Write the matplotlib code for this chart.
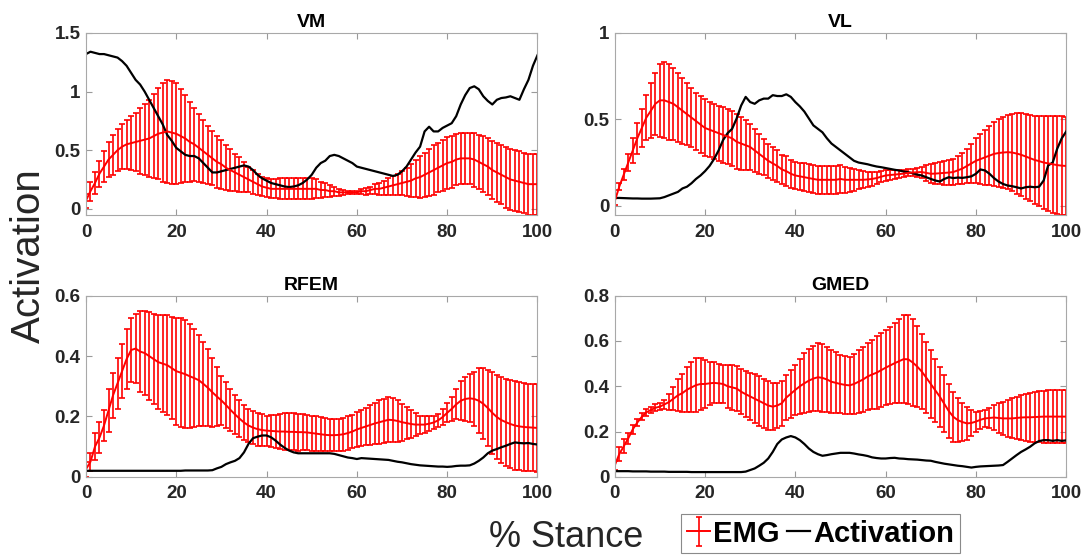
import matplotlib
matplotlib.use("Agg")
import matplotlib.pyplot as plt
import numpy as np
from matplotlib.ticker import FuncFormatter

plt.rcParams['font.family'] = ['Liberation Sans', 'DejaVu Sans']

stance = np.arange(0, 101)

vm_mean = [0.07, 0.15, 0.22, 0.30, 0.36, 0.42, 0.46, 0.50, 0.53, 0.55,
           0.56, 0.57, 0.58, 0.59, 0.60, 0.62, 0.64, 0.65, 0.66, 0.65,
           0.64, 0.62, 0.60, 0.57, 0.55, 0.52, 0.49, 0.46, 0.43, 0.40,
           0.38, 0.35, 0.33, 0.31, 0.29, 0.27, 0.25, 0.23, 0.21, 0.19,
           0.18, 0.17, 0.17, 0.17, 0.17, 0.17, 0.17, 0.17, 0.17, 0.17,
           0.17, 0.17, 0.16, 0.16, 0.15, 0.15, 0.14, 0.14, 0.14, 0.14,
           0.14, 0.15, 0.15, 0.16, 0.17, 0.17, 0.18, 0.19, 0.20, 0.21,
           0.22, 0.23, 0.24, 0.26, 0.27, 0.29, 0.31, 0.33, 0.35, 0.37,
           0.39, 0.40, 0.42, 0.43, 0.43, 0.43, 0.42, 0.40, 0.38, 0.36,
           0.33, 0.31, 0.29, 0.27, 0.25, 0.24, 0.23, 0.22, 0.21, 0.21,
           0.21]
vm_sd = [0.06, 0.08, 0.09, 0.11, 0.13, 0.15, 0.17, 0.18, 0.19, 0.21,
         0.23, 0.25, 0.28, 0.30, 0.33, 0.36, 0.39, 0.42, 0.44, 0.44,
         0.43, 0.40, 0.37, 0.34, 0.31, 0.29, 0.27, 0.25, 0.23, 0.22,
         0.21, 0.19, 0.18, 0.16, 0.15, 0.13, 0.11, 0.10, 0.09, 0.08,
         0.08, 0.08, 0.08, 0.09, 0.09, 0.09, 0.09, 0.09, 0.09, 0.09,
         0.09, 0.08, 0.07, 0.06, 0.05, 0.04, 0.03, 0.02, 0.01, 0.01,
         0.01, 0.02, 0.03, 0.03, 0.04, 0.05, 0.06, 0.07, 0.08, 0.09,
         0.10, 0.12, 0.14, 0.16, 0.18, 0.19, 0.20, 0.21, 0.21, 0.22,
         0.22, 0.22, 0.22, 0.22, 0.22, 0.22, 0.23, 0.23, 0.24, 0.24,
         0.25, 0.25, 0.25, 0.26, 0.26, 0.26, 0.26, 0.26, 0.26, 0.26,
         0.26]
vm_act = [1.32, 1.34, 1.33, 1.32, 1.32, 1.31, 1.30, 1.29, 1.26, 1.22,
          1.16, 1.10, 1.06, 1.00, 0.93, 0.86, 0.79, 0.72, 0.63, 0.58,
          0.52, 0.49, 0.46, 0.45, 0.45, 0.43, 0.39, 0.35, 0.31, 0.31,
          0.32, 0.33, 0.34, 0.35, 0.36, 0.37, 0.36, 0.33, 0.29, 0.26,
          0.24, 0.22, 0.21, 0.20, 0.19, 0.185, 0.19, 0.20, 0.22, 0.25,
          0.29, 0.35, 0.39, 0.41, 0.45, 0.46, 0.45, 0.43, 0.41, 0.39,
          0.36, 0.35, 0.34, 0.33, 0.32, 0.31, 0.30, 0.29, 0.28, 0.29,
          0.32, 0.36, 0.42, 0.48, 0.53, 0.66, 0.70, 0.66, 0.66, 0.69,
          0.71, 0.73, 0.79, 0.89, 0.97, 1.03, 1.045, 1.02, 0.96, 0.92,
          0.89, 0.93, 0.945, 0.95, 0.96, 0.945, 0.93, 1.02, 1.10, 1.22,
          1.31]

vl_mean = [0.025, 0.11, 0.18, 0.25, 0.32, 0.39, 0.45, 0.51, 0.55, 0.59,
           0.61, 0.61, 0.60, 0.59, 0.57, 0.55, 0.53, 0.51, 0.49, 0.47,
           0.45, 0.44, 0.43, 0.42, 0.41, 0.40, 0.39, 0.37, 0.36, 0.35,
           0.34, 0.32, 0.30, 0.28, 0.26, 0.245, 0.23, 0.21, 0.20, 0.185,
           0.175, 0.17, 0.165, 0.16, 0.155, 0.15, 0.15, 0.15, 0.15, 0.15,
           0.155, 0.15, 0.15, 0.15, 0.15, 0.15, 0.152, 0.155, 0.16, 0.168,
           0.175, 0.178, 0.18, 0.183, 0.186, 0.19, 0.192, 0.194, 0.195, 0.19,
           0.185, 0.186, 0.188, 0.19, 0.192, 0.195, 0.205, 0.215, 0.23, 0.245,
           0.26, 0.27, 0.28, 0.29, 0.30, 0.305, 0.308, 0.31, 0.308, 0.302,
           0.295, 0.285, 0.275, 0.265, 0.258, 0.25, 0.245, 0.24, 0.235, 0.232,
           0.23]
vl_sd = [0.02, 0.02, 0.03, 0.05, 0.07, 0.09, 0.11, 0.13, 0.16, 0.18,
         0.21, 0.22, 0.22, 0.21, 0.20, 0.19, 0.18, 0.17, 0.165, 0.165,
         0.165, 0.16, 0.16, 0.16, 0.16, 0.16, 0.16, 0.16, 0.155, 0.145,
         0.135, 0.125, 0.115, 0.105, 0.10, 0.095, 0.09, 0.085, 0.085, 0.08,
         0.08, 0.08, 0.08, 0.08, 0.08, 0.08, 0.08, 0.08, 0.08, 0.08,
         0.08, 0.075, 0.07, 0.065, 0.055, 0.05, 0.045, 0.04, 0.035, 0.032,
         0.03, 0.027, 0.025, 0.022, 0.02, 0.02, 0.022, 0.027, 0.032, 0.045,
         0.055, 0.06, 0.065, 0.068, 0.072, 0.075, 0.08, 0.088, 0.10, 0.115,
         0.13, 0.145, 0.16, 0.17, 0.185, 0.195, 0.205, 0.215, 0.225, 0.232,
         0.24, 0.245, 0.25, 0.255, 0.26, 0.27, 0.275, 0.28, 0.283, 0.285,
         0.285]
vl_act = [0.045, 0.045, 0.044, 0.043, 0.042, 0.042, 0.041, 0.041, 0.041, 0.042,
          0.043, 0.05, 0.06, 0.07, 0.08, 0.10, 0.11, 0.13, 0.155, 0.175,
          0.20, 0.23, 0.27, 0.32, 0.38, 0.42, 0.445, 0.505, 0.58, 0.63,
          0.60, 0.59, 0.61, 0.62, 0.62, 0.64, 0.635, 0.635, 0.645, 0.63,
          0.60, 0.575, 0.545, 0.505, 0.465, 0.445, 0.425, 0.39, 0.36, 0.34,
          0.32, 0.30, 0.28, 0.26, 0.25, 0.245, 0.24, 0.233, 0.227, 0.223,
          0.218, 0.213, 0.208, 0.204, 0.198, 0.194, 0.188, 0.18, 0.175, 0.165,
          0.155, 0.146, 0.14, 0.155, 0.165, 0.16, 0.163, 0.161, 0.165, 0.17,
          0.185, 0.21, 0.204, 0.185, 0.16, 0.14, 0.126, 0.117, 0.113, 0.107,
          0.10, 0.107, 0.11, 0.107, 0.11, 0.146, 0.233, 0.25, 0.33, 0.39,
          0.43]

rf_mean = [0.025, 0.05, 0.10, 0.13, 0.17, 0.22, 0.27, 0.31, 0.35, 0.39,
           0.42, 0.425, 0.415, 0.41, 0.40, 0.39, 0.38, 0.375, 0.37, 0.36,
           0.35, 0.345, 0.34, 0.333, 0.327, 0.32, 0.308, 0.295, 0.28, 0.266,
           0.253, 0.238, 0.222, 0.207, 0.193, 0.18, 0.17, 0.163, 0.158, 0.155,
           0.153, 0.152, 0.151, 0.15, 0.15, 0.149, 0.149, 0.148, 0.148, 0.147,
           0.145, 0.143, 0.141, 0.139, 0.138, 0.138, 0.139, 0.141, 0.145, 0.15,
           0.157, 0.162, 0.167, 0.172, 0.177, 0.181, 0.185, 0.189, 0.188, 0.185,
           0.181, 0.178, 0.175, 0.173, 0.173, 0.173, 0.176, 0.18, 0.187, 0.198,
           0.212, 0.225, 0.24, 0.252, 0.258, 0.26, 0.258, 0.252, 0.242, 0.228,
           0.212, 0.198, 0.188, 0.181, 0.175, 0.17, 0.167, 0.165, 0.164, 0.163,
           0.162]
rf_sd = [0.025, 0.03, 0.045, 0.05, 0.05, 0.07, 0.075, 0.085, 0.09, 0.10,
         0.105, 0.115, 0.135, 0.14, 0.145, 0.15, 0.155, 0.16, 0.165, 0.17,
         0.177, 0.18, 0.178, 0.172, 0.163, 0.15, 0.14, 0.128, 0.114, 0.098,
         0.08, 0.075, 0.07, 0.065, 0.06, 0.058, 0.056, 0.055, 0.055, 0.053,
         0.05, 0.052, 0.055, 0.058, 0.06, 0.061, 0.061, 0.061, 0.06, 0.059,
         0.058, 0.057, 0.056, 0.055, 0.054, 0.054, 0.054, 0.055, 0.055, 0.056,
         0.058, 0.06, 0.062, 0.065, 0.069, 0.072, 0.074, 0.075, 0.073, 0.068,
         0.061, 0.053, 0.045, 0.038, 0.03, 0.028, 0.024, 0.02, 0.022, 0.026,
         0.032, 0.04, 0.05, 0.065, 0.073, 0.08, 0.09, 0.107, 0.118, 0.127,
         0.135, 0.139, 0.142, 0.144, 0.145, 0.146, 0.146, 0.146, 0.145, 0.145,
         0.145]
rf_act = [0.02, 0.02, 0.02, 0.02, 0.02, 0.02, 0.02, 0.02, 0.02, 0.02,
          0.02, 0.02, 0.02, 0.02, 0.02, 0.02, 0.02, 0.02, 0.02, 0.02,
          0.02, 0.02, 0.021, 0.021, 0.021, 0.021, 0.021, 0.021, 0.022, 0.028,
          0.033, 0.042, 0.048, 0.053, 0.062, 0.081, 0.109, 0.128, 0.133, 0.137,
          0.137, 0.131, 0.12, 0.107, 0.096, 0.087, 0.081, 0.078, 0.078, 0.078,
          0.078, 0.078, 0.078, 0.078, 0.078, 0.076, 0.072, 0.068, 0.064, 0.062,
          0.059, 0.062, 0.061, 0.06, 0.059, 0.058, 0.057, 0.056, 0.053, 0.05,
          0.048, 0.045, 0.042, 0.04, 0.038, 0.037, 0.036, 0.035, 0.034, 0.034,
          0.033, 0.034, 0.036, 0.037, 0.037, 0.038, 0.044, 0.053, 0.064, 0.078,
          0.087, 0.092, 0.098, 0.103, 0.109, 0.114, 0.112, 0.111, 0.112, 0.109,
          0.107]

gm_mean = [0.05, 0.10, 0.135, 0.17, 0.21, 0.24, 0.265, 0.285, 0.295, 0.305,
           0.31, 0.32, 0.33, 0.345, 0.36, 0.37, 0.385, 0.395, 0.405, 0.41,
           0.41, 0.413, 0.415, 0.413, 0.41, 0.40, 0.395, 0.39, 0.376, 0.365,
           0.355, 0.345, 0.335, 0.325, 0.315, 0.31, 0.315, 0.325, 0.35, 0.367,
           0.384, 0.40, 0.413, 0.425, 0.434, 0.44, 0.437, 0.43, 0.42, 0.415,
           0.41, 0.406, 0.404, 0.41, 0.42, 0.43, 0.443, 0.452, 0.46, 0.471,
           0.482, 0.492, 0.502, 0.511, 0.52, 0.519, 0.505, 0.487, 0.465, 0.438,
           0.41, 0.382, 0.354, 0.322, 0.29, 0.265, 0.25, 0.242, 0.236, 0.238,
           0.244, 0.252, 0.258, 0.26, 0.262, 0.26, 0.258, 0.258, 0.258, 0.26,
           0.262, 0.263, 0.263, 0.264, 0.265, 0.266, 0.266, 0.266, 0.266, 0.266,
           0.266]
gm_sd = [0.02, 0.03, 0.03, 0.025, 0.02, 0.015, 0.015, 0.015, 0.015, 0.015,
         0.015, 0.02, 0.035, 0.05, 0.07, 0.085, 0.10, 0.11, 0.12, 0.115,
         0.105, 0.095, 0.09, 0.087, 0.085, 0.095, 0.098, 0.10, 0.10, 0.102,
         0.104, 0.107, 0.11, 0.108, 0.107, 0.105, 0.10, 0.10, 0.10, 0.105,
         0.11, 0.122, 0.133, 0.14, 0.145, 0.15, 0.15, 0.145, 0.14, 0.135,
         0.13, 0.128, 0.127, 0.132, 0.138, 0.143, 0.148, 0.154, 0.16, 0.163,
         0.165, 0.171, 0.177, 0.186, 0.195, 0.197, 0.19, 0.178, 0.165, 0.156,
         0.148, 0.14, 0.133, 0.126, 0.12, 0.11, 0.097, 0.085, 0.074, 0.058,
         0.044, 0.04, 0.037, 0.045, 0.055, 0.065, 0.074, 0.081, 0.088, 0.094,
         0.10, 0.104, 0.108, 0.11, 0.113, 0.115, 0.116, 0.117, 0.118, 0.118,
         0.118]
gm_act = [0.025, 0.025, 0.025, 0.025, 0.024, 0.024, 0.024, 0.024, 0.023, 0.023,
          0.023, 0.023, 0.022, 0.022, 0.022, 0.022, 0.022, 0.021, 0.021, 0.021,
          0.021, 0.021, 0.021, 0.021, 0.021, 0.021, 0.021, 0.021, 0.021, 0.023,
          0.03, 0.037, 0.049, 0.062, 0.081, 0.11, 0.145, 0.165, 0.174, 0.18,
          0.174, 0.162, 0.145, 0.125, 0.11, 0.10, 0.093, 0.096, 0.10, 0.103,
          0.106, 0.106, 0.106, 0.103, 0.099, 0.096, 0.092, 0.086, 0.083, 0.081,
          0.081, 0.083, 0.084, 0.081, 0.08, 0.078, 0.077, 0.076, 0.074, 0.072,
          0.071, 0.066, 0.062, 0.058, 0.055, 0.052, 0.049, 0.047, 0.044, 0.041,
          0.044, 0.046, 0.047, 0.048, 0.049, 0.05, 0.052, 0.066, 0.081, 0.096,
          0.11, 0.121, 0.133, 0.148, 0.158, 0.162, 0.162, 0.159, 0.162, 0.159,
          0.161]

titles = ["VM", "VL", "RFEM", "GMED"]
means = [vm_mean, vl_mean, rf_mean, gm_mean]
sds = [vm_sd, vl_sd, rf_sd, gm_sd]
acts = [vm_act, vl_act, rf_act, gm_act]
ylims = [(-0.055, 1.5), (-0.055, 1.0), (0, 0.6), (0, 0.8)]
yticks = [[0, 0.5, 1, 1.5], [0, 0.5, 1], [0, 0.2, 0.4, 0.6], [0, 0.2, 0.4, 0.6, 0.8]]

# axes boxes [left, bottom, width, height] in figure fraction
boxes = [[0.079, 0.615, 0.415, 0.326],
         [0.565, 0.615, 0.415, 0.326],
         [0.079, 0.147, 0.415, 0.324],
         [0.565, 0.147, 0.415, 0.324]]

fig = plt.figure(figsize=(10.88, 5.59), dpi=100)

for i in range(4):
    ax = fig.add_axes(boxes[i])
    eb = ax.errorbar(stance, means[i], yerr=sds[i], color='red', lw=1.4,
                     elinewidth=1.2, capsize=2.4, capthick=1.2, label='EMG')
    ln, = ax.plot(stance, acts[i], color='black', lw=1.6, label='Activation')
    ax.set_xlim(0, 100)
    ax.set_ylim(*ylims[i])
    ax.set_xticks([0, 20, 40, 60, 80, 100])
    ax.set_yticks(yticks[i])
    ax.yaxis.set_major_formatter(FuncFormatter(lambda v, p: f"{v:g}"))
    ax.set_title(titles[i], fontsize=14, fontweight='bold', pad=4)
    ax.tick_params(direction='in', top=True, right=True, length=4,
                   color='#9a9a9a', labelsize=13.5, labelcolor='#262626')
    ax.tick_params(axis='x', pad=6)
    ax.tick_params(axis='y', pad=4)
    for lab in ax.get_xticklabels() + ax.get_yticklabels():
        lab.set_fontweight('bold')
    for sp in ax.spines.values():
        sp.set_color('#a8a8a8')
        sp.set_linewidth(0.8)

fig.text(0.027, 0.542, "Activation", rotation=90, fontsize=29,
         color='#262626', ha='center', va='center')
fig.text(0.52, 0.039, "% Stance", fontsize=26, color='#262626',
         ha='center', va='center')

leg = fig.legend([eb, ln], ["EMG", "Activation"], loc='upper left',
                 bbox_to_anchor=(0.626, 0.081), ncol=2, fancybox=False,
                 framealpha=1, edgecolor='#8a8a8a', handlelength=0.8,
                 handletextpad=0.1, columnspacing=0.25, borderpad=0.2,
                 borderaxespad=0.0, prop={'size': 21, 'weight': 'bold'})
leg.get_frame().set_linewidth(0.8)

fig.savefig("out.png", dpi=100)
